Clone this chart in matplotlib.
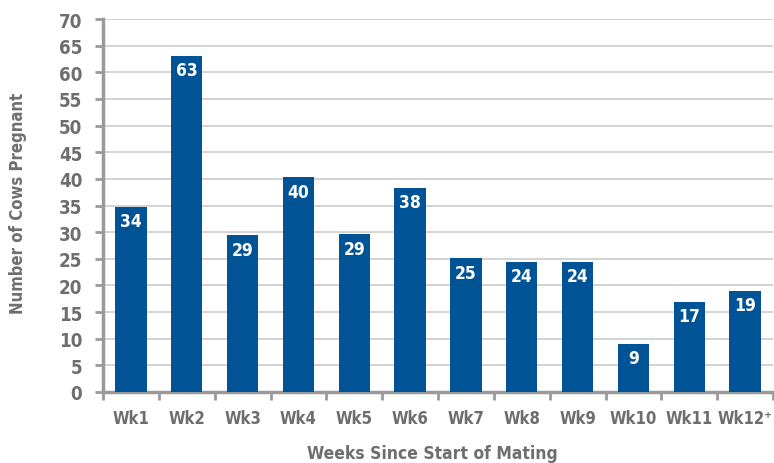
import numpy as np
import matplotlib.pyplot as plt

weeks = ["Wk1", "Wk2", "Wk3", "Wk4", "Wk5", "Wk6", "Wk7", "Wk8", "Wk9", "Wk10", "Wk11", "Wk12\u207a"]
heights = [34.7, 63.1, 29.4, 40.3, 29.6, 38.3, 25.1, 24.4, 24.4, 9.0, 16.9, 19.0]
labels = [34, 63, 29, 40, 29, 38, 25, 24, 24, 9, 17, 19]

plt.rcParams['font.family'] = ['DejaVu Sans']
plt.rcParams['font.stretch'] = 'condensed'
grey = '#6e6e6e'
blue = '#005496'

fig = plt.figure(figsize=(7.74, 4.64), dpi=100)
ax = fig.add_axes([103/774, 71/464, 670/774, 373/464])

x = np.arange(len(weeks))
ax.bar(x, heights, width=0.56, color=blue, zorder=3)
for xi, h, lab in zip(x, heights, labels):
    ax.text(xi, h - 2.7, str(lab), ha='center', va='center', color='white',
            fontsize=12.5, fontweight='bold', zorder=4)

ax.set_xlim(-0.5, len(weeks) - 0.5)
ax.set_ylim(0, 70)
ax.set_yticks(np.arange(0, 71, 5))
ax.yaxis.grid(True, color='#d0d0d0', linewidth=1.3, zorder=0)
ax.set_axisbelow(True)

ax.set_xticks(x)
ax.set_xticklabels(weeks)
ax.set_xticks(np.arange(-0.5, len(weeks), 1), minor=True)
ax.tick_params(axis='x', which='major', length=0, pad=12, labelsize=12, labelcolor=grey)
ax.tick_params(axis='x', which='minor', length=6, width=2, color='#9a9a9a', direction='out')
ax.tick_params(axis='y', length=6, width=2, color='#9a9a9a', labelsize=13.5, labelcolor=grey, pad=9)
for t in ax.get_xticklabels() + ax.get_yticklabels():
    t.set_fontweight('bold')

for s in ['top', 'right']:
    ax.spines[s].set_visible(False)
for s in ['left', 'bottom']:
    ax.spines[s].set_color('#9a9a9a')
    ax.spines[s].set_linewidth(2.5)

fig.text(18/774, 1 - 203/464, 'Number of Cows Pregnant', rotation=90, ha='center', va='center',
         fontsize=12, fontweight='bold', color=grey)
fig.text(432/774, 1 - 454/464, 'Weeks Since Start of Mating', ha='center', va='center',
         fontsize=12.5, fontweight='bold', color=grey)

fig.savefig('out.png', dpi=100)
